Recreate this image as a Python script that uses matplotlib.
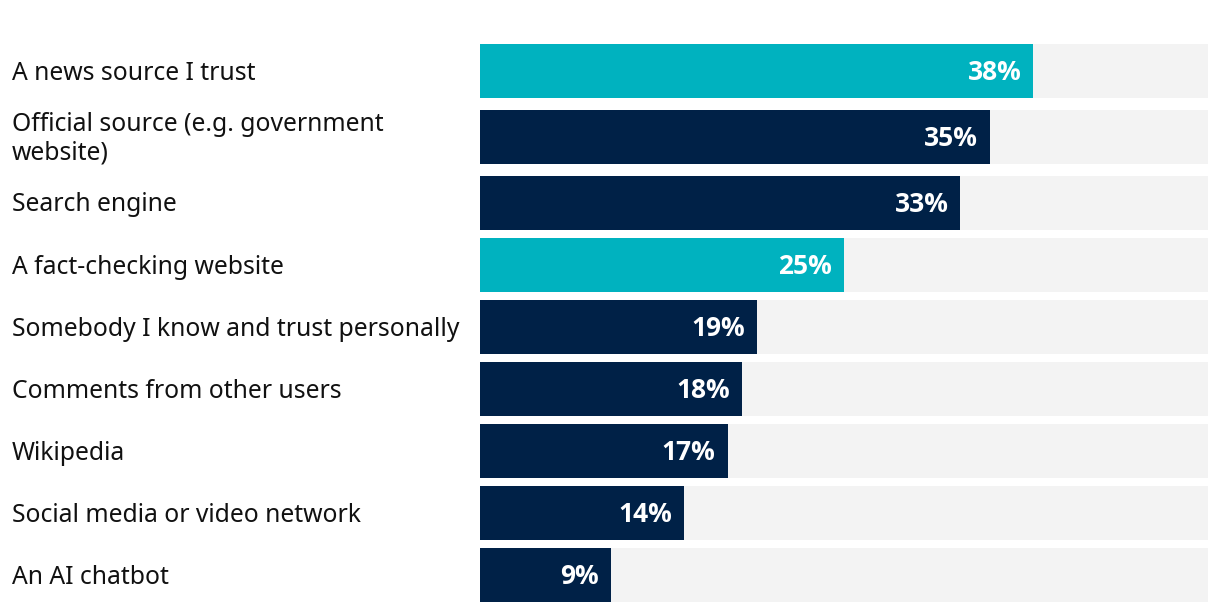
import matplotlib.pyplot as plt
from matplotlib.transforms import ScaledTranslation

# data
labels = ['A news source I trust',
          'Official source (e.g. government\nwebsite)',
          'Search engine',
          'A fact-checking website',
          'Somebody I know and trust personally',
          'Comments from other users',
          'Wikipedia',
          'Social media or video network',
          'An AI chatbot']
values = [38, 35, 33, 25, 19, 18, 17, 14, 9]
highlight = [True, False, False, True, False, False, False, False, False]
axis_max = 50

TEAL = '#00B2BF'
NAVY = '#002147'
GREY = '#F3F3F3'
TEXT = '#111111'

# row heights in pixels (two-line rows get a bit more room)
row_h = [62 + 8 * l.count('\n') for l in labels]
bar_h = 54
centers = []
acc = 0
for h in row_h:
    centers.append(acc + h / 2)
    acc += h
total_h = acc

W, H = 1220, 614
fig = plt.figure(figsize=(W / 100, H / 100), dpi=100)
ax = fig.add_axes([480 / W, (H - 40 - total_h) / H, (1208 - 480) / W, total_h / H])

colors = [TEAL if hl else NAVY for hl in highlight]
ax.barh(centers, [axis_max] * len(values), height=bar_h, color=GREY, linewidth=0)
ax.barh(centers, values, height=bar_h, color=colors, linewidth=0)

ax.set_xlim(0, axis_max)
ax.set_ylim(total_h, 0)
ax.axis('off')

pad = ScaledTranslation(-12 / 100, -1 / 100, fig.dpi_scale_trans)
for y, v in zip(centers, values):
    ax.text(v, y, f'{v}%', transform=ax.transData + pad, ha='right', va='center',
            color='white', fontsize=19, fontweight='bold', family='Open Sans')

for y, lab in zip(centers, labels):
    ax.text(12 / W, 1 - (40 + y + 2) / H, lab, ha='left', va='center', color=TEXT,
            fontsize=17.8, family='Noto Sans', linespacing=1.2,
            transform=fig.transFigure)

fig.savefig('out.png', dpi=100)
